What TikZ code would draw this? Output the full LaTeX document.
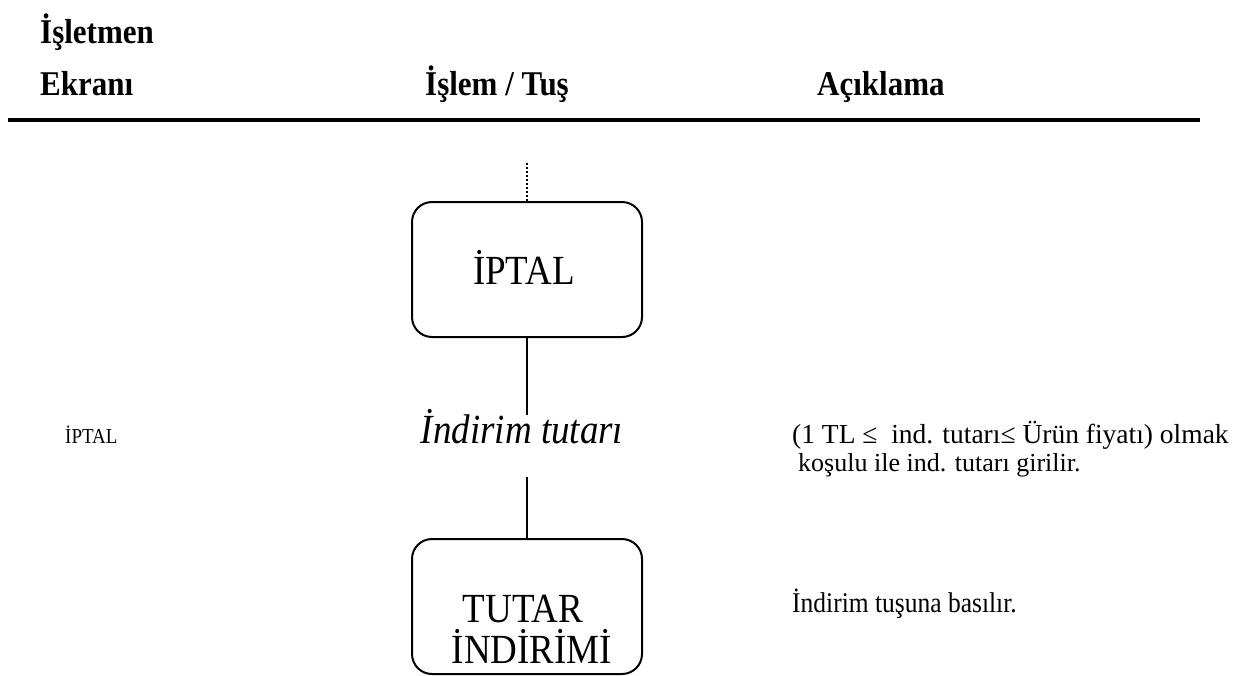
\documentclass[tikz,border=0pt]{standalone}
\usepackage{fontspec}
\setmainfont{Liberation Serif}
\newcommand{\tall}[1]{\scalebox{1}[1.12]{#1}}
\tikzset{
  hdr/.style={anchor=base west, inner sep=0pt, font=\fontsize{31}{36}\selectfont\bfseries},
  body/.style={anchor=base west, inner sep=0pt, font=\fontsize{27.5}{32}\selectfont},
  small/.style={anchor=base west, inner sep=0pt, font=\fontsize{19}{23}\selectfont},
  keybox/.style={draw, line width=2pt, rounded corners=20pt, minimum width=230pt, minimum height=135pt, inner sep=0pt},
  big/.style={anchor=base, inner sep=0pt, font=\fontsize{37}{44}\selectfont},
  conn/.style={line width=2pt},
}
\begin{document}
\begin{tikzpicture}[x=1pt,y=-1pt]
\useasboundingbox (0,0) rectangle (1250,675);
% header
\node[hdr] (h1) at (40,43) {\tall{İşletmen}};
\node[hdr] (h2) at (40,95) {\tall{Ekranı}};
\node[hdr] (h3) at (425,95) {\tall{İşlem / Tuş}};
\node[hdr] (h4) at (817,95) {\tall{Açıklama}};
\coordinate (rl) at (8,120);
\coordinate (rr) at (1200,120);
\draw[line width=4pt] (rl) -- (rr);
% boxes
\node[keybox] (b1) at (527,269.5) {};
\node[big] (t1) at (524,284) {\tall{İPTAL}};
\node[keybox] (b2) at (527,606.5) {};
\node[big] (t2a) at (523,622) {\tall{TUTAR}};
\node[big] (t2b) at (532,663) {\tall{İNDİRİMİ}};
\node[anchor=base, inner sep=0pt, font=\fontsize{37}{42}\selectfont\itshape] (it) at (522,443) {\tall{İndirim tutarı}};
% connectors
\coordinate (dtop) at (527,163);
\coordinate (l1e) at (527,415);
\coordinate (l2s) at (527,477);
\draw[conn, dotted] (dtop) -- (b1.north);
\draw[conn] (b1.south) -- (l1e);
\draw[conn] (l2s) -- (b2.north);
% left / right texts
\node[small] (lp) at (65,443) {\tall{İPTAL}};
\node[body] (r1) at (792,443) {(1 TL ≤\ \ ind. tutarı≤ Ürün fiyatı) olmak};
\node[body, font=\fontsize{26}{30}\selectfont] (r2) at (798,471) {koşulu ile ind. tutarı girilir.};
\node[small, font=\fontsize{25.5}{30}\selectfont] (r3) at (792,612) {\tall{İndirim tuşuna basılır.}};
\end{tikzpicture}
\end{document}
